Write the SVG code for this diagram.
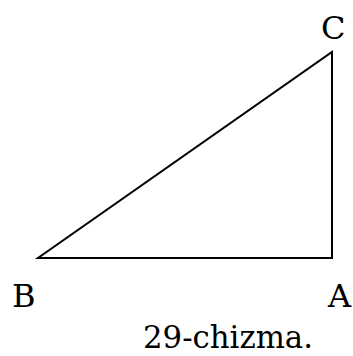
<svg xmlns="http://www.w3.org/2000/svg" width="353" height="356" viewBox="0 0 353 356">
<style>
text{font-family:'Liberation Serif','DejaVu Serif',serif;font-size:32px;fill:#000}
.lbl{font-family:'DejaVu Serif',serif}
.edge{fill:none;stroke:#000;stroke-width:2;stroke-linejoin:miter}
</style>
<rect width="353" height="356" fill="#fff"/>
<g id="connectors">
<polygon class="edge" points="38,258 332,258 332,52"/>
</g>
<g id="node-C"><text class="lbl" x="321" y="39">C</text></g>
<g id="node-B"><text class="lbl" x="12" y="307">B</text></g>
<g id="node-A"><text class="lbl" x="328" y="307">A</text></g>
<g id="caption"><text class="lbl" x="143" y="348" textLength="170" lengthAdjust="spacingAndGlyphs">29-chizma.</text></g>
</svg>
